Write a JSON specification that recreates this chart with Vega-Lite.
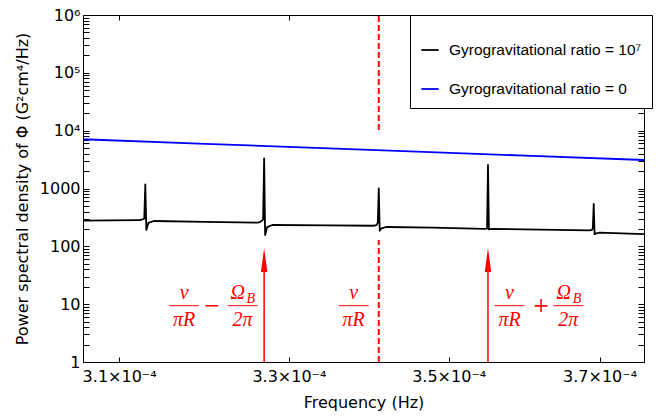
{
  "$schema": "https://vega.github.io/schema/vega-lite/v6.json",
  "width": 561,
  "height": 347,
  "autosize": "none",
  "padding": {"left": 83, "top": 15, "right": 23, "bottom": 57},
  "background": "white",
  "config": {
    "view": {"stroke": "black", "strokeWidth": 1},
    "axis": {
      "domain": false, "grid": false, "tickColor": "black", "tickWidth": 1,
      "labelFont": "DejaVu Sans", "labelFontSize": 16, "labelColor": "black",
      "titleFont": "DejaVu Sans", "titleFontSize": 16, "titleFontWeight": "normal", "titleColor": "black",
      "labelOverlap": false, "labelFlush": false
    }
  },
  "datasets": {
    "lines": [
      {"f": 3.059e-4, "psd": 278, "s": "10⁷"},
      {"f": 3.12e-4, "psd": 283, "s": "10⁷"},
      {"f": 3.124e-4, "psd": 284, "s": "10⁷"},
      {"f": 3.1288e-4, "psd": 300, "s": "10⁷"},
      {"f": 3.1300e-4, "psd": 1183, "s": "10⁷"},
      {"f": 3.1312e-4, "psd": 192, "s": "10⁷"},
      {"f": 3.1336e-4, "psd": 255, "s": "10⁷"},
      {"f": 3.140e-4, "psd": 274, "s": "10⁷"},
      {"f": 3.200e-4, "psd": 265, "s": "10⁷"},
      {"f": 3.262e-4, "psd": 257, "s": "10⁷"},
      {"f": 3.2650e-4, "psd": 262, "s": "10⁷"},
      {"f": 3.2688e-4, "psd": 290, "s": "10⁷"},
      {"f": 3.2700e-4, "psd": 3330, "s": "10⁷"},
      {"f": 3.2712e-4, "psd": 157, "s": "10⁷"},
      {"f": 3.2736e-4, "psd": 215, "s": "10⁷"},
      {"f": 3.280e-4, "psd": 234, "s": "10⁷"},
      {"f": 3.350e-4, "psd": 230, "s": "10⁷"},
      {"f": 3.404e-4, "psd": 227, "s": "10⁷"},
      {"f": 3.4080e-4, "psd": 232, "s": "10⁷"},
      {"f": 3.4098e-4, "psd": 255, "s": "10⁷"},
      {"f": 3.4110e-4, "psd": 1008, "s": "10⁷"},
      {"f": 3.4122e-4, "psd": 186, "s": "10⁷"},
      {"f": 3.4146e-4, "psd": 205, "s": "10⁷"},
      {"f": 3.420e-4, "psd": 216, "s": "10⁷"},
      {"f": 3.480e-4, "psd": 210, "s": "10⁷"},
      {"f": 3.545e-4, "psd": 201, "s": "10⁷"},
      {"f": 3.5498e-4, "psd": 203, "s": "10⁷"},
      {"f": 3.5510e-4, "psd": 2550, "s": "10⁷"},
      {"f": 3.5522e-4, "psd": 196, "s": "10⁷"},
      {"f": 3.556e-4, "psd": 200, "s": "10⁷"},
      {"f": 3.620e-4, "psd": 194, "s": "10⁷"},
      {"f": 3.686e-4, "psd": 189, "s": "10⁷"},
      {"f": 3.6895e-4, "psd": 192, "s": "10⁷"},
      {"f": 3.6908e-4, "psd": 205, "s": "10⁷"},
      {"f": 3.6920e-4, "psd": 540, "s": "10⁷"},
      {"f": 3.6932e-4, "psd": 162, "s": "10⁷"},
      {"f": 3.6956e-4, "psd": 168, "s": "10⁷"},
      {"f": 3.700e-4, "psd": 172, "s": "10⁷"},
      {"f": 3.761e-4, "psd": 163, "s": "10⁷"},
      {"f": 3.059e-4, "psd": 7100, "s": "0"},
      {"f": 3.200e-4, "psd": 5929, "s": "0"},
      {"f": 3.400e-4, "psd": 4652, "s": "0"},
      {"f": 3.600e-4, "psd": 3701, "s": "0"},
      {"f": 3.761e-4, "psd": 3108, "s": "0"}
    ],
    "vline": [
      {"f": 3.411e-4, "psd": 10275, "psd2": 1000000},
      {"f": 3.411e-4, "psd": 1, "psd2": 128.7}
    ],
    "arrows": [
      {"f": 3.270e-4, "psd": 1, "psd2": 39},
      {"f": 3.551e-4, "psd": 1, "psd2": 39}
    ],
    "heads": [
      {"f": 3.270e-4, "psd": 58},
      {"f": 3.551e-4, "psd": 58}
    ],
    "bars": [
      {"f": 3.1575e-4, "f2": 3.1925e-4, "psd": 9.41},
      {"f": 3.2263e-4, "f2": 3.2621e-4, "psd": 9.41},
      {"f": 3.3611e-4, "f2": 3.3983e-4, "psd": 9.41},
      {"f": 3.5596e-4, "f2": 3.5990e-4, "psd": 9.41},
      {"f": 3.6376e-4, "f2": 3.6779e-4, "psd": 9.41}
    ],
    "texts": [
      {"f": 3.1750e-4, "psd": 12.29, "t": "v"},
      {"f": 3.1750e-4, "psd": 4.19, "t": "πR"},
      {"f": 3.2385e-4, "psd": 12.29, "t": "Ω"},
      {"f": 3.2441e-4, "psd": 4.19, "t": "2π"},
      {"f": 3.3796e-4, "psd": 12.29, "t": "v"},
      {"f": 3.3796e-4, "psd": 4.19, "t": "πR"},
      {"f": 3.5793e-4, "psd": 12.29, "t": "v"},
      {"f": 3.5793e-4, "psd": 4.19, "t": "πR"},
      {"f": 3.6516e-4, "psd": 12.29, "t": "Ω"},
      {"f": 3.6577e-4, "psd": 4.19, "t": "2π"}
    ],
    "subs": [
      {"f": 3.2487e-4, "psd": 10.48, "t": "B"},
      {"f": 3.6635e-4, "psd": 10.48, "t": "B"}
    ],
    "ops": [
      {"f": 3.2078e-4, "psd": 9.41, "t": "−"},
      {"f": 3.6212e-4, "psd": 9.41, "t": "+"}
    ]
  },
  "layer": [
    {
      "data": {"name": "lines"},
      "mark": {"type": "line", "strokeWidth": 1.8, "strokeJoin": "round", "clip": true},
      "encoding": {
        "x": {
          "field": "f", "type": "quantitative",
          "scale": {"type": "log", "domain": [3.059e-4, 3.761e-4], "nice": false, "zero": false},
          "axis": {
            "orient": "bottom", "title": "Frequency (Hz)",
            "values": [3.1e-4, 3.3e-4, 3.5e-4, 3.7e-4],
            "labelExpr": "format(datum.value*1e4,'.1f') + '×10⁻⁴'",
            "tickSize": -5, "labelPadding": 11, "titlePadding": 10
          }
        },
        "y": {
          "field": "psd", "type": "quantitative",
          "scale": {"type": "log", "domain": [1, 1000000], "nice": false, "zero": false},
          "axis": {
            "orient": "left", "title": "Power spectral density of Φ (G²cm⁴/Hz)",
            "values": [1,2,3,4,5,6,7,8,9,10,20,30,40,50,60,70,80,90,100,200,300,400,500,600,700,800,900,1000,2000,3000,4000,5000,6000,7000,8000,9000,10000,20000,30000,40000,50000,60000,70000,80000,90000,100000,200000,300000,400000,500000,600000,700000,800000,900000,1000000],
            "labelExpr": "indexof([1,10,100,1000], datum.value) >= 0 ? format(datum.value,'d') : datum.value == 10000 ? '10⁴' : datum.value == 100000 ? '10⁵' : datum.value == 1000000 ? '10⁶' : ''",
            "tickSize": -6, "labelPadding": 9, "titlePadding": 9,
            "encode": {"ticks": {"update": {"x2": {"signal": "indexof([1,10,100,1000,10000,100000,1000000], datum.value) >= 0 ? 6 : 3"}}}}
          }
        },
        "color": {
          "field": "s", "type": "nominal",
          "scale": {"domain": ["10⁷", "0"], "range": ["black", "#0000ff"]},
          "legend": {
            "orient": "none", "legendX": 327, "legendY": 0,
            "title": " ", "titleFontSize": 8, "titlePadding": 7,
            "labelExpr": "'Gyrogravitational ratio = ' + datum.label",
            "labelFont": "Liberation Sans", "labelFontSize": 15.5, "labelColor": "black", "labelLimit": 400,
            "symbolType": "stroke", "symbolSize": 300, "symbolStrokeWidth": 1.8,
            "rowPadding": 20, "padding": 10, "labelOffset": 9,
            "strokeColor": "black", "fillColor": "white"
          }
        }
      }
    },
    {
      "data": {"name": "vline"},
      "mark": {"type": "rule", "color": "#ff0000", "strokeWidth": 2, "strokeDash": [6, 3]},
      "encoding": {
        "x": {
          "field": "f", "type": "quantitative",
          "axis": {
            "orient": "top", "title": null, "labels": false,
            "values": [3.1e-4, 3.3e-4, 3.5e-4, 3.7e-4], "tickSize": -5
          }
        },
        "y": {
          "field": "psd", "type": "quantitative",
          "axis": {
            "orient": "right", "title": null, "labels": false, "tickSize": -6,
            "values": [1,2,3,4,5,6,7,8,9,10,20,30,40,50,60,70,80,90,100,200,300,400,500,600,700,800,900,1000,2000,3000,4000,5000,6000,7000,8000,9000,10000,20000,30000,40000,50000,60000,70000,80000,90000,100000,200000,300000,400000,500000,600000,700000,800000,900000,1000000],
            "encode": {"ticks": {"update": {"x2": {"signal": "indexof([1,10,100,1000,10000,100000,1000000], datum.value) >= 0 ? -6 : -3"}}}}
          }
        },
        "y2": {"field": "psd2"}
      }
    },
    {
      "data": {"name": "arrows"},
      "mark": {"type": "rule", "color": "#ff0000", "strokeWidth": 1.5},
      "encoding": {
        "x": {"field": "f", "type": "quantitative", "axis": null},
        "y": {"field": "psd", "type": "quantitative", "axis": null},
        "y2": {"field": "psd2"}
      }
    },
    {
      "data": {"name": "heads"},
      "mark": {"type": "point", "shape": "M0,-1L0.27,1L-0.27,1Z", "size": 576, "filled": true, "color": "#ff0000", "opacity": 1, "strokeWidth": 0},
      "encoding": {
        "x": {"field": "f", "type": "quantitative", "axis": null},
        "y": {"field": "psd", "type": "quantitative", "axis": null}
      }
    },
    {
      "data": {"name": "bars"},
      "mark": {"type": "rule", "color": "#ff0000", "strokeWidth": 1},
      "encoding": {
        "x": {"field": "f", "type": "quantitative", "axis": null},
        "x2": {"field": "f2"},
        "y": {"field": "psd", "type": "quantitative", "axis": null}
      }
    },
    {
      "data": {"name": "texts"},
      "mark": {"type": "text", "font": "Liberation Serif", "fontStyle": "italic", "fontSize": 20, "color": "#ff0000", "align": "center", "baseline": "alphabetic"},
      "encoding": {
        "x": {"field": "f", "type": "quantitative", "axis": null},
        "y": {"field": "psd", "type": "quantitative", "axis": null},
        "text": {"field": "t"}
      }
    },
    {
      "data": {"name": "subs"},
      "mark": {"type": "text", "font": "Liberation Serif", "fontStyle": "italic", "fontSize": 14, "color": "#ff0000", "align": "left", "baseline": "alphabetic"},
      "encoding": {
        "x": {"field": "f", "type": "quantitative", "axis": null},
        "y": {"field": "psd", "type": "quantitative", "axis": null},
        "text": {"field": "t"}
      }
    },
    {
      "data": {"name": "ops"},
      "mark": {"type": "text", "font": "DejaVu Serif", "fontSize": 20, "color": "#ff0000", "align": "center", "baseline": "middle"},
      "encoding": {
        "x": {"field": "f", "type": "quantitative", "axis": null},
        "y": {"field": "psd", "type": "quantitative", "axis": null},
        "text": {"field": "t"}
      }
    }
  ],
  "resolve": {"axis": {"x": "independent", "y": "independent"}}
}
